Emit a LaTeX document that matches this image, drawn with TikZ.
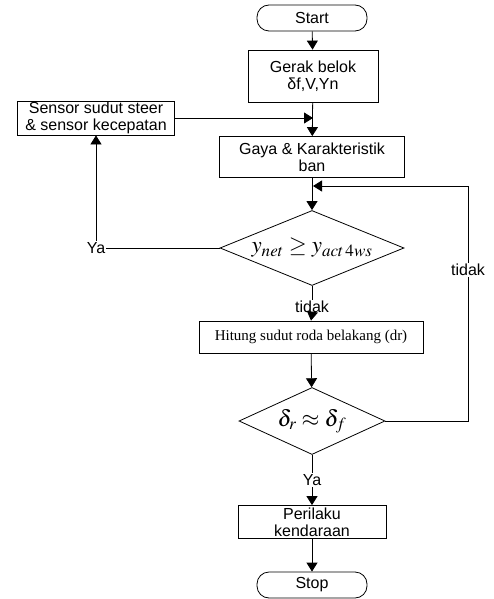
\documentclass[tikz,border=0pt]{standalone}
\usepackage{mathptmx}
\usepackage[no-math]{fontspec}
\setmainfont{Liberation Sans}
\newfontfamily\timesfont{Liberation Serif}
\usetikzlibrary{arrows.meta,shapes.geometric}

\tikzset{
  box/.style={draw, line width=0.8pt, align=center, inner sep=0pt, font=\fontsize{16}{17}\selectfont},
  terminal/.style={box, rounded corners=12pt, minimum width=110pt, minimum height=26pt},
  decision/.style={draw, diamond, line width=0.8pt, inner sep=0pt},
  rumus/.style={inner sep=0pt, font=\fontsize{23}{25}\selectfont},
  lbl/.style={inner sep=1pt, font=\fontsize{16}{17}\selectfont},
  flow/.style={line width=0.8pt, -{Triangle[length=9pt,width=11pt]}},
  link/.style={line width=0.8pt}
}

\begin{document}
\begin{tikzpicture}[x=1pt,y=-1pt]
\useasboundingbox (0,0) rectangle (493,599);
% Draw the blocks
\node[terminal] (start) at (312,18) {Start};
\node[box, minimum width=130pt, minimum height=52pt] (gerak) at (313,76) {Gerak belok\\δf,V,Yn};
\node[box, minimum width=157pt, minimum height=34pt] (sensor) at (96,118) {Sensor sudut steer\\\& sensor kecepatan};
\node[box, minimum width=185pt, minimum height=41pt] (gaya) at (312,157) {Gaya \& Karakteristik\\ban};
\node[decision, minimum width=184pt, minimum height=75pt] (cek) at (312,248) {};
\node[rumus] (cekteks) at (cek) {$y_{net}\geq y_{act\,4ws}$};
\node[box, minimum width=224pt, minimum height=32pt, font=\timesfont\fontsize{15}{17}\selectfont] (hitung) at (311,337) {Hitung sudut roda belakang (dr)};
\node[decision, minimum width=146pt, minimum height=67pt] (sudut) at (312,421) {};
\node[rumus] (sudutteks) at (sudut) {$\delta_r\approx\delta_f$};
\node[box, minimum width=148pt, minimum height=33pt] (perilaku) at (312,522) {Perilaku\\kendaraan};
\node[terminal] (stop) at (312,585) {Stop};
% Draw the labels
\node[lbl] (ya1) at (96,248) {Ya};
\node[lbl] (tidak1) at (312,307) {tidak};
\node[lbl] (tidak2) at (468,270) {tidak};
\node[lbl] (ya2) at (312,480) {Ya};
\coordinate (masuk) at (313,118);
\coordinate (balik) at (313,186);
% Draw the connectors
\draw[flow] (start) -- (gerak);
\draw[flow] (gerak) -- (gaya);
\draw[flow] (sensor.east) -- (masuk);
\draw[flow] (gaya) -- (cek);
\draw[link] (cek.west) -- (ya1.east);
\draw[flow] (ya1.north) -- (sensor.south);
\draw[link] (cek.south) -- (tidak1.north);
\draw[flow] (tidak1.south) -- (hitung.north);
\draw[flow] (hitung) -- (sudut);
\draw[link] (sudut.east) -| (tidak2.south);
\draw[flow] (tidak2.north) |- (balik);
\draw[link] (sudut.south) -- (ya2.north);
\draw[flow] (ya2.south) -- (perilaku.north);
\draw[flow] (perilaku) -- (stop);
\end{tikzpicture}
\end{document}
